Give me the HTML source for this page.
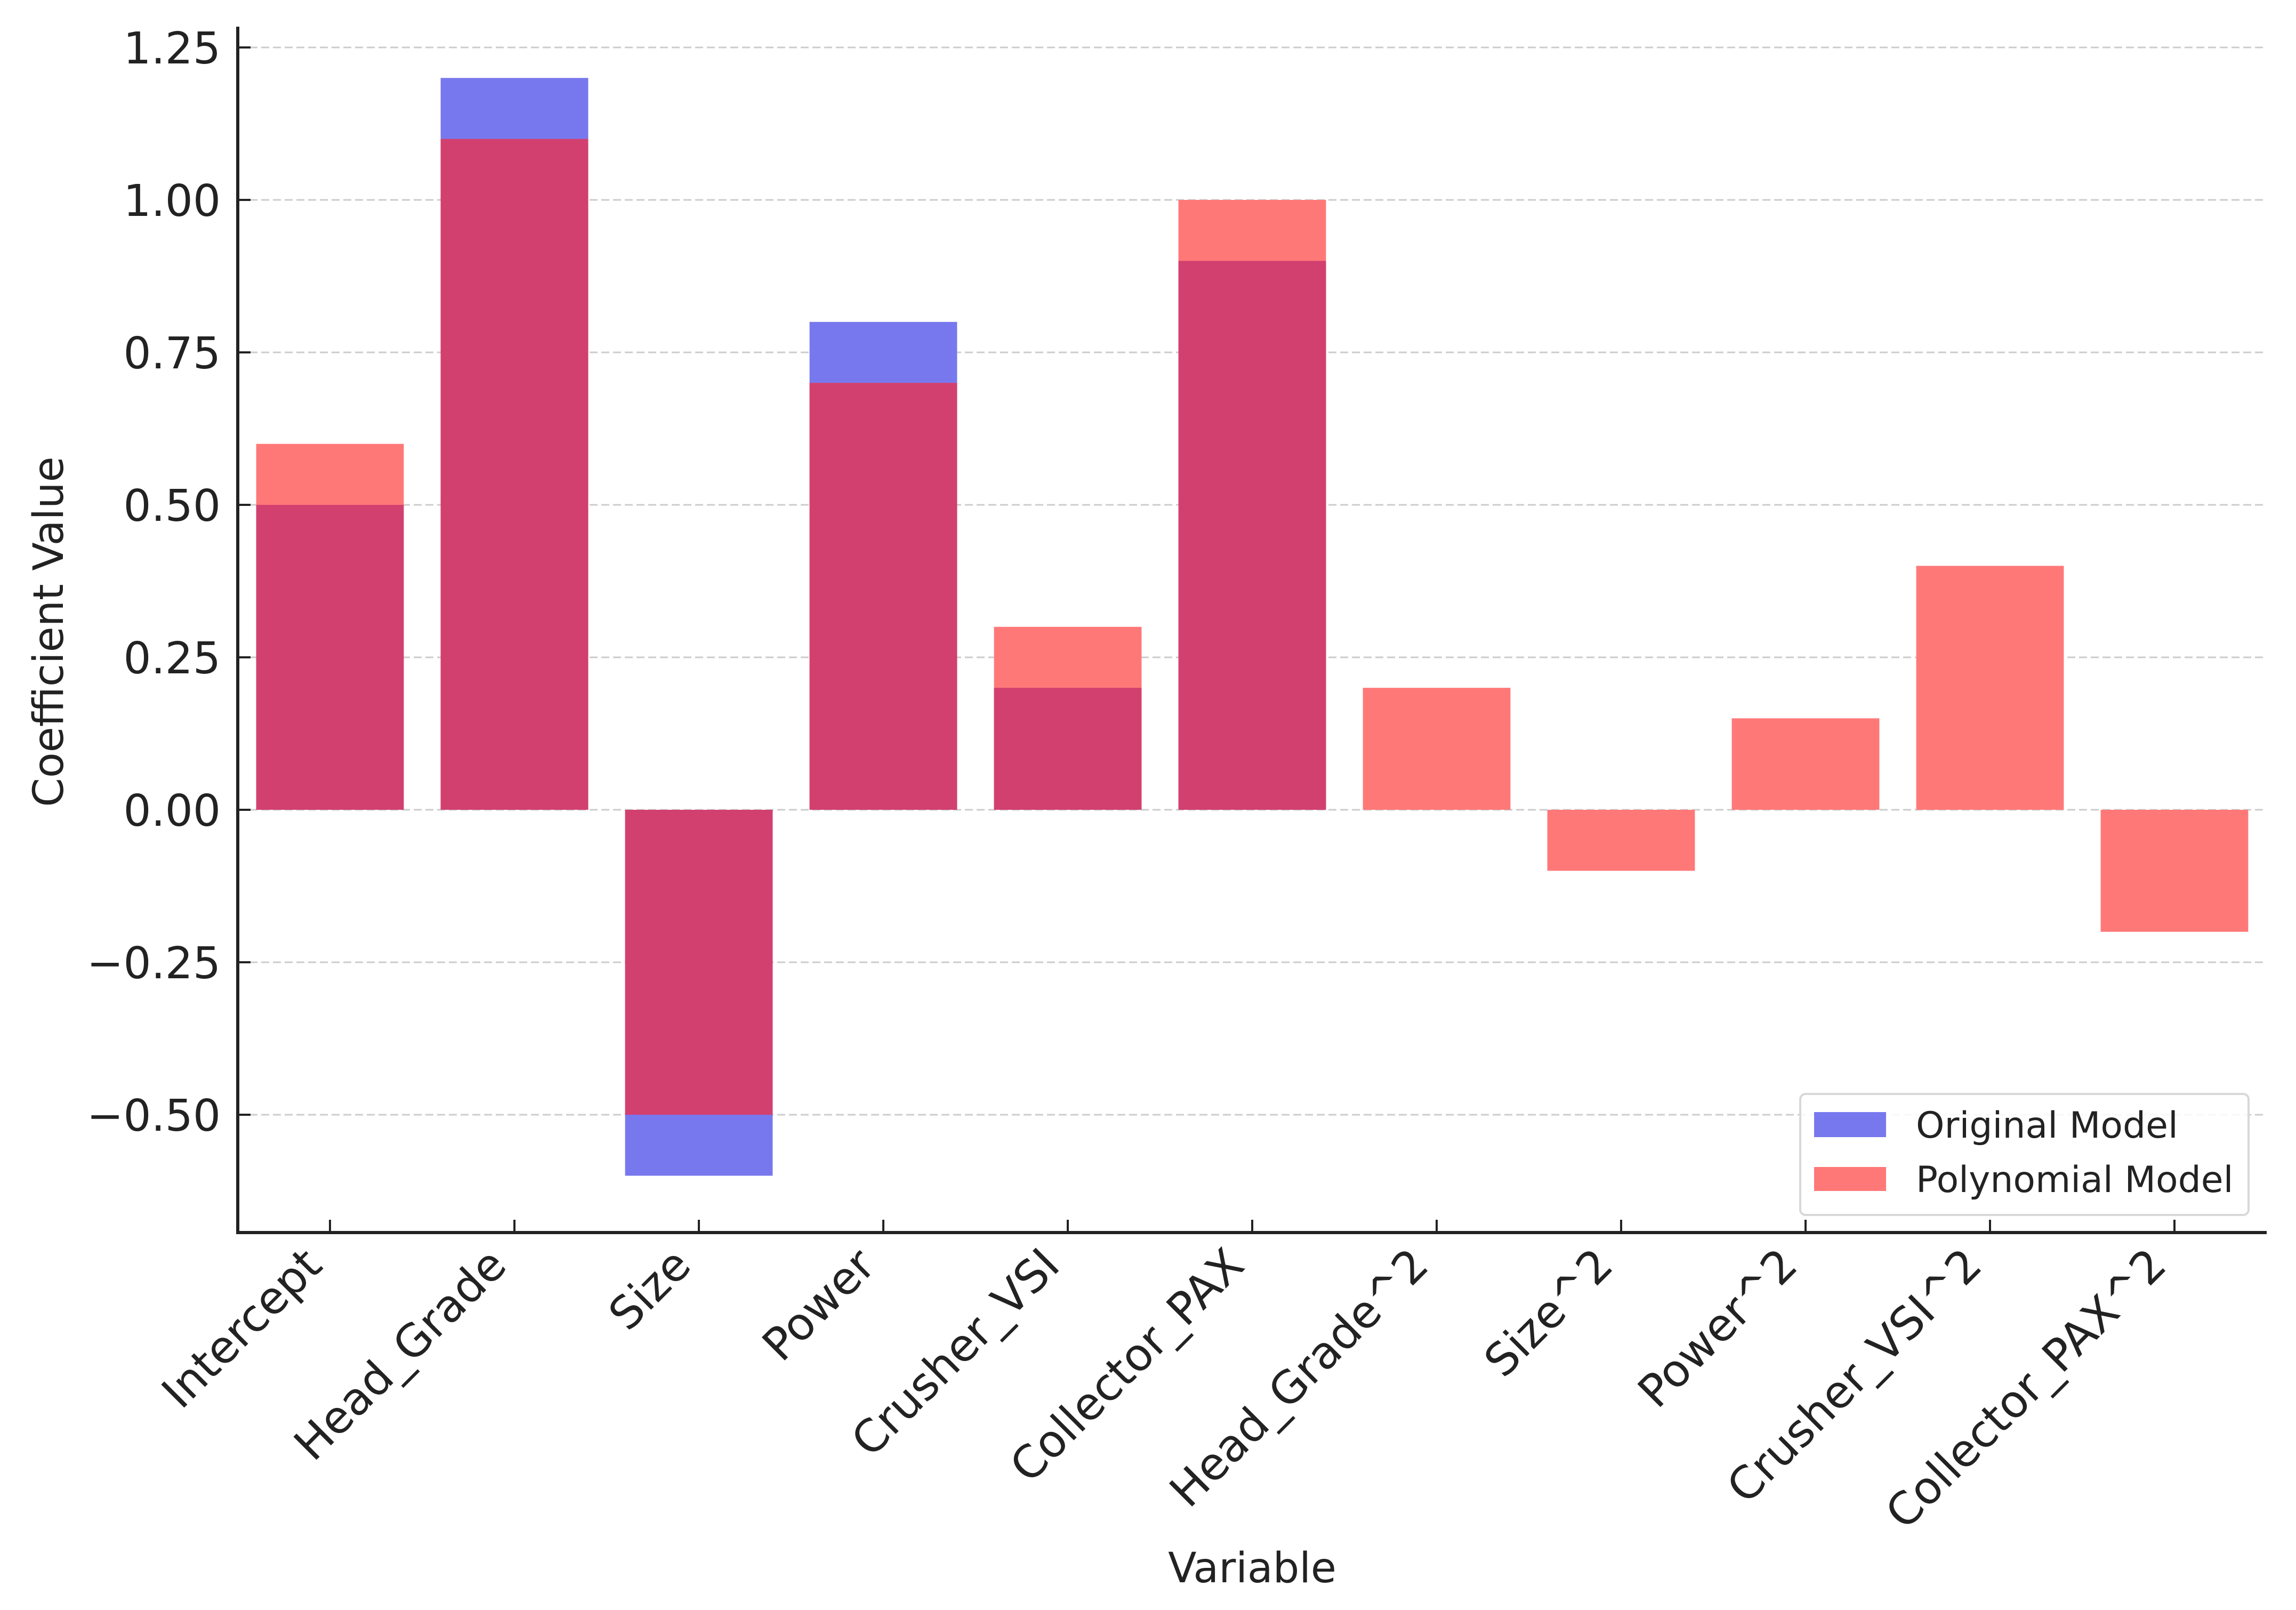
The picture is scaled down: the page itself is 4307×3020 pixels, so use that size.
<!DOCTYPE html>
<html><head><meta charset="utf-8"><style>
html,body{margin:0;padding:0;background:#fff}
svg{display:block}
text{font-family:"DejaVu Sans","Liberation Sans",sans-serif;fill:#222}
</style></head><body>
<svg id="chart" width="4307" height="3020" viewBox="0 0 4307 3020" xmlns="http://www.w3.org/2000/svg">
<g id="grid"></g>
<g id="bars"></g>
<g id="axes"></g>
<text x="0" y="0" font-size="78" text-anchor="middle" transform="translate(118,1185) rotate(-90)">Coefficient Value</text>
<text x="2349" y="2968" font-size="78" text-anchor="middle">Variable</text>
<g>
<rect x="3377" y="2052" width="841" height="227" rx="10" fill="#fff" fill-opacity="0.85" stroke="#d8d8d8" stroke-width="4"/>
<rect x="3403" y="2086" width="135" height="47" fill="#7878ee"/>
<text x="3594" y="2134" font-size="68">Original Model</text>
<rect x="3403" y="2189" width="135" height="45" fill="#ff7878"/>
<text x="3594" y="2236" font-size="68">Polynomial Model</text>
</g>
</svg>
<script>
const categories = ["Intercept","Head_Grade","Size","Power","Crusher_VSI","Collector_PAX","Head_Grade^2","Size^2","Power^2","Crusher_VSI^2","Collector_PAX^2"];
const originalValues = [0.5,1.2,-0.6,0.8,0.2,0.9,0,0,0,0,0];
const polynomialValues = [0.6,1.1,-0.5,0.7,0.3,1.0,0.2,-0.1,0.15,0.4,-0.2];
const yTickValues = [-0.5,-0.25,0,0.25,0.5,0.75,1.0,1.25];
const yTickLabels = ["\u22120.50","\u22120.25","0.00","0.25","0.50","0.75","1.00","1.25"];

const NS="http://www.w3.org/2000/svg";
const X0=446, X1=4252, YTOP=50, YBOT=2312;
const xMin=-0.5, xMax=10.5;
const yZero=1519, yPer=1144;
function xScale(i){return X0+(i-xMin)/(xMax-xMin)*(X1-X0);}
function yScale(v){return yZero-v*yPer;}
const step=(X1-X0)/(xMax-xMin), bw=step*0.8;
function mk(tag,attrs,parent){const e=document.createElementNS(NS,tag);for(const k in attrs)e.setAttribute(k,attrs[k]);parent.appendChild(e);return e;}

const grid=document.getElementById('grid'), bars=document.getElementById('bars'), axes=document.getElementById('axes');
yTickValues.forEach((v,i)=>{
  const y=yScale(v);
  const g=mk('line',{x1:X0,x2:X1,y1:y,y2:y,stroke:'#cccccc','stroke-width':3,'stroke-dasharray':'15 7'},grid);
  
  
  const t=mk('line',{x1:X0,x2:X0+24,y1:y,y2:y,stroke:'#222','stroke-width':4},axes);
  
  
  const l=mk('text',{x:414,y:y+30,'font-size':82,'text-anchor':'end'},axes);
  l.textContent=yTickLabels[i];
  
  
});
function rectFor(v){const a=yScale(Math.max(v,0)),b=yScale(Math.min(v,0));return {y:a,h:b-a};}
categories.forEach((c,i)=>{
  const cx=xScale(i), x=cx-bw/2;
  const o=originalValues[i], p=polynomialValues[i];
  if(o!==0){const r=rectFor(o);const e=mk('rect',{x:x,y:r.y,width:bw,height:r.h,fill:'#7878ee'},bars);
    
    }
  if(p!==0){const r=rectFor(p);const e=mk('rect',{x:x,y:r.y,width:bw,height:r.h,fill:'#ff7878'},bars);
    
    }
  if(o*p>0){const ov=o>0?Math.min(o,p):Math.max(o,p);const r=rectFor(ov);
    const e=mk('rect',{x:x,y:r.y,width:bw,height:r.h,fill:'#d24070'},bars);
    
    }
  const t=mk('line',{x1:cx,x2:cx,y1:YBOT,y2:YBOT-24,stroke:'#222','stroke-width':4},axes);
  
  
  const l=mk('text',{x:0,y:0,'font-size':84,'text-anchor':'end',transform:'translate('+(cx-11)+',2378) rotate(-45)'},axes);
  l.textContent=c;
  
  
});
const ya=mk('line',{x1:X0,x2:X0,y1:YTOP,y2:YBOT+3,stroke:'#222','stroke-width':6},axes);


const xa=mk('line',{x1:X0-3,x2:X1,y1:YBOT,y2:YBOT,stroke:'#222','stroke-width':6},axes);


</script>
</body></html>
